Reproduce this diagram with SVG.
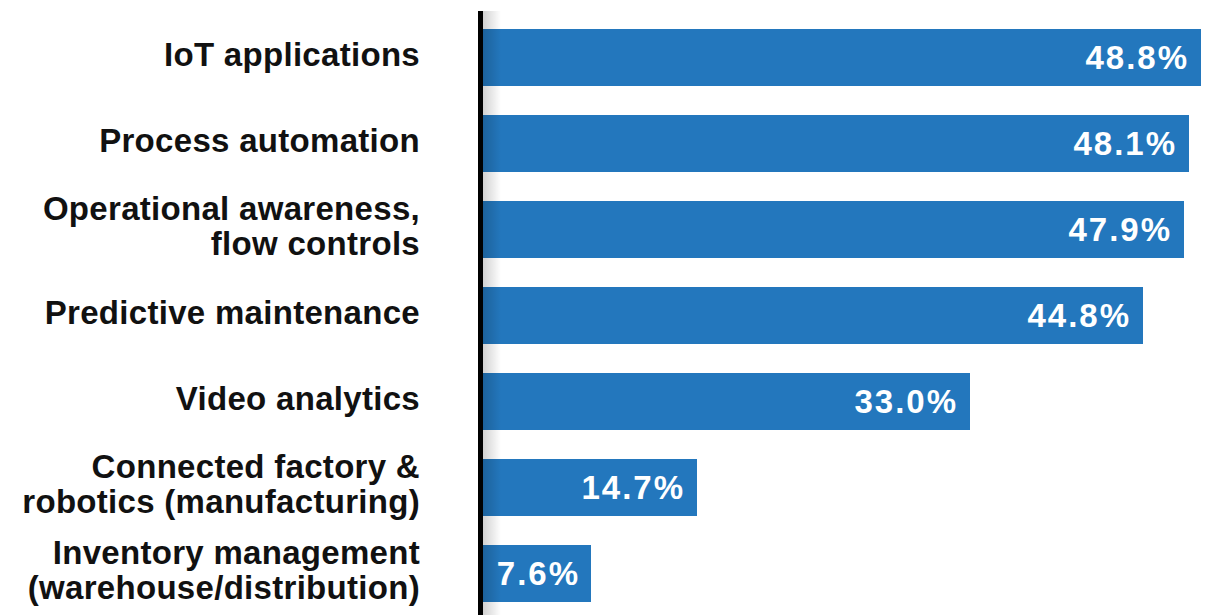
<svg xmlns="http://www.w3.org/2000/svg" width="1207" height="615" viewBox="0 0 1207 615">
<defs>
<style>
.lbl{font-family:"Liberation Sans",Arial,sans-serif;font-weight:700;font-size:33px;letter-spacing:0.3px;fill:#111;text-anchor:end}
.val{font-family:"Liberation Sans",Arial,sans-serif;font-weight:700;font-size:33px;letter-spacing:2px;fill:#fff;text-anchor:end}
.bar{fill:#2377bd}
</style>
<linearGradient id="sh" x1="0" x2="1" y1="0" y2="0">
<stop offset="0" stop-color="#000" stop-opacity="0.18"/>
<stop offset="1" stop-color="#000" stop-opacity="0"/>
</linearGradient>
</defs>
<rect width="1207" height="615" fill="#fff"/>
<g id="bars">
<g id="bar1"><rect class="bar" x="483" y="29" width="718" height="57"/><text class="val" x="1189" y="69">48.8%</text></g>
<g id="bar2"><rect class="bar" x="483" y="115" width="706" height="57"/><text class="val" x="1177" y="155">48.1%</text></g>
<g id="bar3"><rect class="bar" x="483" y="201" width="701" height="57"/><text class="val" x="1172" y="241">47.9%</text></g>
<g id="bar4"><rect class="bar" x="483" y="287" width="660" height="57"/><text class="val" x="1131" y="327">44.8%</text></g>
<g id="bar5"><rect class="bar" x="483" y="373" width="487" height="57"/><text class="val" x="958" y="413">33.0%</text></g>
<g id="bar6"><rect class="bar" x="483" y="459" width="214" height="57"/><text class="val" x="685" y="499">14.7%</text></g>
<g id="bar7"><rect class="bar" x="483" y="545" width="108" height="57"/><text class="val" x="580" y="585">7.6%</text></g>
</g>
<rect x="483" y="11" width="18" height="604" fill="url(#sh)"/>
<g id="axis"><rect x="478" y="11" width="5" height="604" fill="#000"/></g>
<g id="labels">
<text class="lbl" x="420" y="66">IoT applications</text>
<text class="lbl" x="420" y="152">Process automation</text>
<text class="lbl" x="420" y="220">Operational awareness,</text>
<text class="lbl" x="420" y="255">flow controls</text>
<text class="lbl" x="420" y="324">Predictive maintenance</text>
<text class="lbl" x="420" y="410">Video analytics</text>
<text class="lbl" x="420" y="478">Connected factory &amp;</text>
<text class="lbl" x="420" y="513">robotics (manufacturing)</text>
<text class="lbl" x="420" y="564">Inventory management</text>
<text class="lbl" x="420" y="599">(warehouse/distribution)</text>
</g>
</svg>
